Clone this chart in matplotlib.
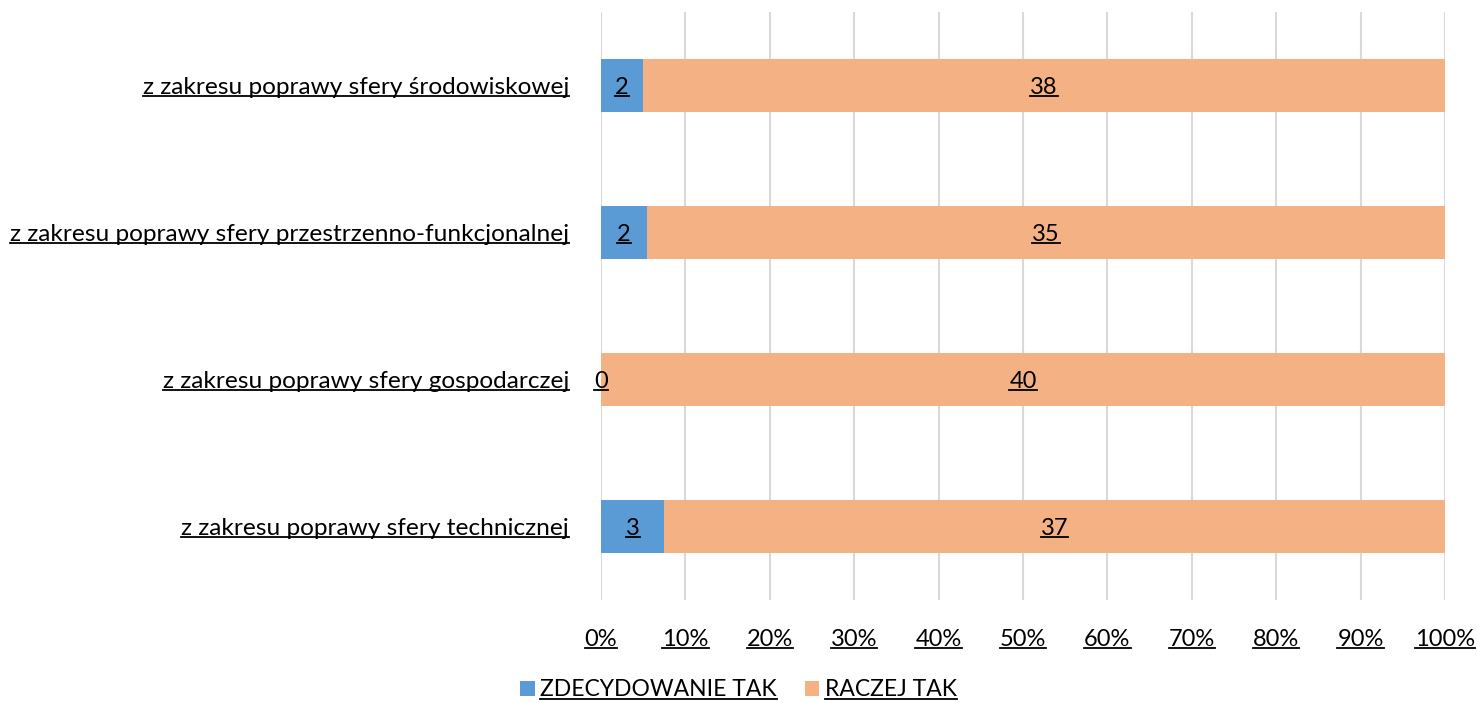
import matplotlib
matplotlib.use('Agg')
from matplotlib import pyplot as plt
from matplotlib.lines import Line2D
import numpy as np

categories = ['z zakresu poprawy sfery technicznej',
              'z zakresu poprawy sfery gospodarczej',
              'z zakresu poprawy sfery przestrzenno-funkcjonalnej',
              'z zakresu poprawy sfery środowiskowej']
zdecydowanie = [3, 0, 2, 2]
raczej = [37, 40, 35, 38]
series_names = ['ZDECYDOWANIE TAK', 'RACZEJ TAK']
colors = ['#5B9BD5', '#F4B183']
xticks = np.arange(0, 101, 10)
xtick_labels = ['{}%'.format(t) for t in xticks]

plt.rcParams['font.family'] = ['Lato', 'DejaVu Sans']

fig = plt.figure(figsize=(14.77, 7.03), dpi=100)
ax = fig.add_axes([601 / 1477, 1 - 600 / 703, 844 / 1477, 588 / 703])

a = np.array(zdecydowanie, dtype=float)
b = np.array(raczej, dtype=float)
tot = a + b
pa = a / tot * 100
pb = b / tot * 100
y = np.arange(len(categories))

ax.barh(y, pa, height=0.355, color=colors[0], label=series_names[0], zorder=3)
ax.barh(y, pb, left=pa, height=0.355, color=colors[1], label=series_names[1], zorder=3)

underline_texts = []
for i in range(len(categories)):
    t1 = ax.text(pa[i] / 2, y[i], str(zdecydowanie[i]), ha='center', va='center_baseline',
                 fontsize=17, color='black', zorder=4)
    t2 = ax.text(pa[i] + pb[i] / 2, y[i], str(raczej[i]), ha='center', va='center_baseline',
                 fontsize=17, color='black', zorder=4)
    underline_texts += [t1, t2]

ax.set_xlim(0, 100)
ax.set_ylim(-0.5, 3.5)
ax.set_xticks(xticks)
ax.set_xticklabels(xtick_labels, fontsize=17)
ax.set_yticks(y)
ax.set_yticklabels(categories, fontsize=17.6)
ax.tick_params(axis='both', length=0)
ax.tick_params(axis='x', pad=21)
ax.tick_params(axis='y', pad=23)
ax.grid(axis='x', color='#D9D9D9', linewidth=1.5, zorder=0)
for s in ax.spines.values():
    s.set_visible(False)

leg = fig.legend(loc='center', bbox_to_anchor=(0.5, 1 - 690 / 703), ncol=2, frameon=False,
                 fontsize=16.5, handlelength=0.65, handleheight=0.65, handletextpad=0.25,
                 columnspacing=1.2)

underline_texts += ax.get_xticklabels() + ax.get_yticklabels() + leg.get_texts()

fig.canvas.draw()
r = fig.canvas.get_renderer()
W, H = fig.bbox.width, fig.bbox.height
for t in underline_texts:
    if not t.get_text():
        continue
    bb = t.get_window_extent(renderer=r)
    yy = bb.y0 + 2
    fig.add_artist(Line2D([bb.x0 / W, bb.x1 / W], [yy / H, yy / H], color='black',
                          linewidth=1.3, transform=fig.transFigure))

fig.savefig('out.png', dpi=100)
